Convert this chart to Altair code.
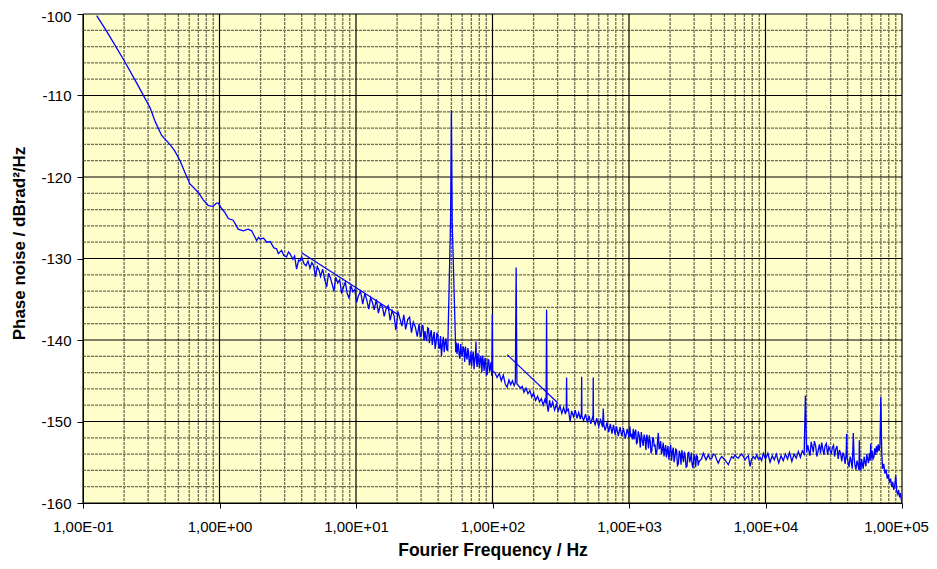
import altair as alt
import pandas as pd

# ---- measured phase-noise curve (Fourier frequency in Hz, phase noise in dBrad^2/Hz)
freq_a = [0.126, 0.15, 0.2, 0.25, 0.31, 0.34, 0.377, 0.433, 0.47, 0.514, 0.56, 0.608, 0.70, 0.76, 0.828,
          0.90, 0.95, 0.98, 1.04, 1.1, 1.16, 1.26, 1.37, 1.49, 1.62, 1.72, 1.87, 1.93, 1.98, 2.1, 2.22,
          2.35, 2.5, 2.62, 2.7, 2.85, 2.95, 3.1, 3.2, 3.28, 3.45, 3.55, 3.67, 3.8, 3.89]
pn_a = [-100.2, -102.2, -105.7, -108.6, -111.5, -113.3, -114.9, -116.0, -116.8, -118.0, -119.5, -120.85,
        -121.9, -122.8, -123.5, -123.6, -123.2, -123.2, -123.9, -124.4, -125.1, -125.3, -126.4, -126.6,
        -126.4, -126.6, -127.8, -127.4, -127.6, -127.5, -128.0, -127.9, -128.7, -128.8, -129.4, -129.0,
        -129.6, -129.8, -129.2, -129.4, -130.1, -129.7, -131.3, -130.2, -130.3]

freq_b1 = [4.0, 4.15, 4.3, 4.45, 4.6, 4.75, 4.9, 5.05, 5.2, 5.35, 5.5, 5.7, 5.9, 6.1, 6.3, 6.5, 6.7, 6.9,
           7.1, 7.35, 7.6, 7.85, 8.1, 8.35, 8.6, 8.9, 9.2, 9.5, 9.8, 10.1, 10.4, 10.8, 11.2, 11.6, 12.0,
           12.4, 12.8, 13.2, 13.6, 14.1, 14.6, 15.1, 15.6, 16.1, 16.6, 17.2, 17.8, 18.4, 19.0, 19.6, 20.3,
           21.0, 21.7, 22.4, 23.1, 23.9, 24.7, 25.5, 26.3, 27.2, 28.1]
pn_b1 = [-129.8, -130.6, -130.9, -130.3, -131.2, -130.5, -130.9, -132.3, -131.0, -131.4, -132.2, -131.3,
         -132.6, -133.5, -131.8, -132.4, -133.2, -134.0,
         -132.3, -133.0, -132.6, -134.3, -133.5, -132.9, -134.2, -134.9, -133.3, -134.1, -133.8, -135.4,
         -134.6, -134.0, -135.6, -134.3, -135.1,
         -136.2, -134.8, -135.4, -136.3, -135.0, -136.7, -135.6, -135.9, -137.1, -136.2, -135.8, -137.6,
         -136.4, -137.0, -138.8, -136.5,
         -137.4, -138.3, -136.9, -138.7, -137.5, -137.2, -139.1, -137.8, -138.4, -139.6]

freq_b2 = [29.0, 29.5, 30.0, 30.5, 31.0, 31.5, 32.0, 32.5, 33.0, 33.5,
           34.0, 34.5, 35.1, 35.6, 36.2, 36.8, 37.4, 38.0, 38.6, 39.2,
           39.8, 40.4, 41.0, 41.6, 42.3, 43.0, 43.6, 44.3, 45.0, 45.6,
           46.2, 47.0, 49.3, 50.0, 50.7, 53.8, 54.5, 55.0, 55.5, 56.2,
           57.0, 57.7, 58.5, 59.2, 60.0, 60.8, 61.7, 62.5, 63.4, 64.2,
           65.1, 66.0, 66.8, 67.7, 68.6, 69.5, 70.4, 71.3, 72.3, 73.2,
           74.2, 75.0, 75.7, 76.2, 77.2, 78.2, 79.2, 80.3, 81.3, 82.4,
           83.5, 84.6, 85.7, 86.8, 88.0, 89.1, 90.3, 91.5, 92.7, 93.9,
           95.1, 96.3, 97.5, 98.8, 99.7, 100.3]
pn_b2 = [-138.0, -139.6, -139.5, -138.2, -138.3, -140.1, -138.9, -139.8, -140.0, -138.5,
         -138.6, -140.4, -139.2, -138.8, -140.6, -139.7, -139.0, -141.1, -140.3, -139.1,
         -139.4, -140.9, -141.0, -139.5, -142.0, -140.4, -139.6, -141.5, -140.2, -139.8,
         -141.2, -141.3, -125.3, -111.8, -125.6, -141.5, -140.3, -141.7, -141.0, -140.4,
         -141.9, -142.3, -140.5, -141.6, -142.0, -140.8, -141.1, -142.7, -140.8, -141.9,
         -142.4, -141.0, -141.5, -143.1, -142.6, -141.4, -143.2, -142.0, -141.4, -143.6,
         -142.3, -141.8, -140.2, -142.6, -143.3, -141.6, -142.5, -143.4, -142.0, -142.3,
         -144.0, -141.9, -142.8, -143.8, -142.2, -142.6, -144.3, -144.2, -142.4, -142.5,
         -143.9, -143.4, -142.7, -144.4, -136.8, -143.8]

freq_c = [104, 108, 112, 116, 120, 124, 128, 132, 136, 140, 144, 147, 149, 151, 155, 160, 165, 170, 176,
          182, 188, 194, 200, 207, 214, 221, 228, 235, 242, 247, 249, 251, 256, 262, 268, 276, 285, 294,
          303, 312, 322, 332, 342, 347, 349, 351, 360, 370, 380, 392, 404, 416, 428, 440, 448, 450, 452,
          465, 480, 495, 510, 525, 540, 545, 547, 549, 565, 580, 600, 620, 640, 648, 655, 670, 690, 710,
          730, 750, 770, 790, 810, 835, 860, 885, 910, 940, 970, 1000]
pn_c = [-144.0, -144.6, -144.1, -145.0, -144.3, -145.4, -145.8, -144.9, -145.5, -145.0, -145.6, -145.2,
        -131.1, -145.4, -145.6, -145.9, -145.7, -146.4, -145.9, -146.6, -146.2, -147.0, -146.5, -147.4,
        -146.9, -147.6, -147.2, -148.0, -147.3, -147.8, -136.3, -147.9, -148.8, -147.4, -148.3, -147.6,
        -148.6, -147.9, -148.7, -148.1, -149.0, -148.3, -149.1, -148.6, -144.6, -148.7, -148.5, -150.0,
        -148.7, -149.4, -148.6, -149.6, -148.9, -149.7, -149.0, -144.5, -149.3, -149.9, -149.1, -150.1,
        -149.3, -150.3, -149.5, -149.7, -144.6, -149.8, -150.4, -149.6, -150.6, -149.8, -150.7, -148.4,
        -150.5, -151.1, -150.1, -151.3, -150.3, -151.5, -150.4, -151.6, -150.6, -151.8, -150.7, -151.8,
        -150.8, -152.1, -150.9, -151.9]

freq_d = [1015, 1030, 1045, 1060, 1075, 1090, 1105, 1120, 1135, 1150,
          1170, 1190, 1210, 1230, 1250, 1270, 1290, 1310, 1330, 1350,
          1370, 1390, 1410, 1430, 1450, 1470, 1490, 1510, 1530, 1550,
          1575, 1600, 1620, 1640, 1660, 1680, 1705, 1730, 1755, 1780,
          1805, 1830, 1855, 1880, 1905, 1930, 1960, 1990, 2020, 2050,
          2080, 2110, 2140, 2170, 2200, 2230, 2265, 2300, 2335, 2370,
          2405, 2440, 2475, 2510, 2545, 2580, 2620, 2660, 2700, 2740,
          2780, 2820, 2860, 2900, 2945, 2990, 3035, 3080, 3125, 3170,
          3215, 3260]
pn_d = [-150.6, -151.9, -151.5, -152.2, -150.9, -152.2, -151.3, -151.0, -152.7, -152.6,
        -151.2, -151.8, -153.2, -151.3, -152.3, -153.0, -151.6, -152.1, -153.5, -151.6,
        -152.2, -153.3, -151.7, -152.4, -153.9, -153.6, -152.0, -152.0, -153.1, -152.8,
        -154.1, -153.7, -152.3, -151.4, -153.4, -153.2, -152.4, -154.0, -153.5, -152.6,
        -154.3, -153.4, -152.9, -154.4, -153.6, -153.0, -154.7, -153.6, -152.9, -154.8,
        -153.7, -153.2, -155.0, -154.3, -153.4, -153.5, -155.4, -155.2, -153.6, -154.0,
        -155.3, -153.5, -154.4, -155.0, -153.7, -154.2, -155.6, -155.5, -153.9, -153.8,
        -155.0, -154.6, -153.8, -155.3, -155.7, -154.1, -154.3, -155.6, -154.2, -154.3,
        -155.4, -154.9]

freq_e = [3400, 3500, 3665, 3815, 3920, 4040, 4150, 4270, 4390, 4510, 4640, 4775, 4910, 5050, 5190, 5340,
          5490, 5650, 5810, 5980, 6150, 6325, 6500, 6690, 6880, 7080, 7280, 7490, 7700, 7920, 8145, 8380,
          8615, 8860, 9115, 9370, 9640]
pn_e = [-154.6, -153.9, -154.7, -154.1, -154.6, -154.5, -154.0, -154.1, -154.7, -155.1, -154.6, -154.3,
        -154.5, -154.7, -155.0, -155.3, -154.8, -154.3, -154.5, -154.1, -154.4, -154.5, -154.2, -154.0,
        -154.3, -154.7, -154.4, -154.2, -155.5, -154.6, -154.3, -154.6, -154.1, -154.6, -154.4, -154.8,
        -153.9]

freq_f1 = [10000, 10400, 10800, 11200, 11600, 12000, 12500, 13000, 13500, 14000,
           14500, 15000, 15600, 16200, 16800, 17400, 18000, 18600, 19200, 19600]
pn_f1 = [-154.6, -153.9, -155.0, -154.2, -154.7, -154.0, -155.1, -154.2, -154.8, -154.0,
         -154.6, -153.8, -154.9, -154.0, -154.5, -153.7, -154.4, -153.6, -154.0, -146.8]

freq_f2 = [20000, 20400, 20800, 21200, 21600, 22000, 22400, 22800, 23300, 23800,
           24300, 24800, 25300, 25800, 26300, 26800, 27300, 27900, 28500, 29100,
           29700, 30300, 30900, 31500, 32100, 32700, 33400, 34100, 34800, 35500,
           36200, 36900, 37600, 38300, 39000, 39300, 39700, 40300, 41000, 41700,
           42400, 43200, 44000, 44600, 45300, 46000, 46800, 47600, 48400, 48700,
           49200, 49900, 50600, 51300, 52000, 52800, 53600, 54400, 55200, 56000,
           56800, 57700, 58500, 59000, 59500, 60400, 61300, 62200, 63100, 64000,
           65000, 66000, 67000, 68000, 69000]
pn_f2 = [-153.8, -152.9, -153.6, -154.2, -152.5, -153.1, -153.8, -152.4, -153.0, -154.3,
         -153.6, -152.8, -153.9, -152.6, -153.4, -154.1, -153.0, -152.7, -154.1, -153.1,
         -153.5, -154.0, -153.2, -152.9, -154.3, -153.4, -153.0, -154.6, -153.5, -153.9,
         -154.9, -153.8, -154.2, -155.2, -154.0, -151.5, -154.5, -155.0, -155.6, -154.3,
         -154.8, -155.8, -151.4, -154.6, -155.4, -155.9, -154.8, -155.3, -156.0, -152.3,
         -155.6, -156.0, -154.6, -155.3, -155.8, -154.3, -155.0, -155.5, -154.0, -154.6,
         -155.1, -153.9, -154.8, -152.7, -154.5, -153.6, -154.6, -154.4, -153.3, -154.1,
         -153.0, -153.8, -152.8, -153.6, -152.8]

freq_f3 = [70000, 71000, 72000, 73500, 75000, 76500, 78000, 79500, 81000, 82500, 84000, 85500,
           87000, 88500, 90000, 91500, 93000, 94500, 96000, 97500, 99000, 100000]
pn_f3 = [-147.0, -153.5, -155.8, -155.2, -156.4, -155.9, -157.0, -156.5, -157.5, -157.0, -158.0, -157.4,
         -158.4, -157.8, -156.6, -158.6, -158.9, -158.4, -159.3, -158.8, -159.7, -159.9]

# ---- fitted straight lines
fit_name = ["fit1", "fit1", "fit2", "fit2"]
fit_freq = [4.0, 20.0, 128.0, 300.0]
fit_pn = [-129.3, -136.8, -141.8, -147.7]

# ---- axis ticks / grid
x_major = [0.1, 1, 10, 100, 1000, 10000, 100000]
x_minor = [m * d for d in [0.1, 1, 10, 100, 1000, 10000] for m in [2, 3, 4, 5, 6, 7, 8, 9]]
y_major = [-160, -150, -140, -130, -120, -110, -100]
y_minor = [-158, -156, -154, -152, -148, -146, -144, -142, -138, -136, -134, -132,
           -128, -126, -124, -122, -118, -116, -114, -112, -108, -106, -104, -102]

freq = freq_a + freq_b1 + freq_b2 + freq_c + freq_d + freq_e + freq_f1 + freq_f2 + freq_f3
pn = pn_a + pn_b1 + pn_b2 + pn_c + pn_d + pn_e + pn_f1 + pn_f2 + pn_f3
curve = pd.DataFrame({"f": freq, "pn": pn, "i": list(range(len(freq)))})
fits = pd.DataFrame({"name": fit_name, "f": fit_freq, "pn": fit_pn})

xs = alt.Scale(type="log", domain=[0.1, 100000], nice=False)
ys = alt.Scale(domain=[-160, -100], nice=False, zero=False)

FONT = "Liberation Sans"
BLUE = "#0000FF"

label_expr = ("datum.value < 0.5 ? '1,00E-01' : datum.value < 5 ? '1,00E+00' : "
              "datum.value < 50 ? '1,00E+01' : datum.value < 500 ? '1,00E+02' : "
              "datum.value < 5000 ? '1,00E+03' : datum.value < 50000 ? '1,00E+04' : '1,00E+05'")

x_axis = alt.Axis(
    values=x_major, labelExpr=label_expr, grid=False, title="Fourier Frequency / Hz",
    tickSize=5, labelPadding=11, labelFontSize=15, labelFont=FONT, labelColor="#000",
    titleFont=FONT, titleFontSize=17.5, titleFontWeight="bold", titleColor="#000",
    titlePadding=7, domainColor="#000", tickColor="#000", labelFlush=False,
    labelOverlap=False,
    labelOffset={"condition": {"test": "datum.value >= 50000", "value": -6}, "value": 0})
y_axis = alt.Axis(
    values=y_major, labelExpr="'' + datum.value", grid=False,
    title="Phase noise / dBrad²/Hz", tickSize=6, labelPadding=6, labelFontSize=15,
    labelFont=FONT, labelColor="#000", titleFont=FONT, titleFontSize=17,
    titleFontWeight="bold", titleColor="#000", titlePadding=12, titleY=229,
    domainColor="#000", tickColor="#000", labelOverlap=False,
    labelOffset={"condition": {"test": "datum.value == -100", "value": 2}, "value": 0})

minor_x = alt.Chart(pd.DataFrame({"v": x_minor})).mark_rule(
    color="#6e6e58", strokeWidth=1.3, strokeDash=[3, 1]
).encode(x=alt.X("v:Q", scale=xs, axis=x_axis))
minor_y = alt.Chart(pd.DataFrame({"v": y_minor})).mark_rule(
    color="#6e6e58", strokeWidth=1.3, strokeDash=[3, 1]
).encode(y=alt.Y("v:Q", scale=ys, axis=y_axis))
major_x = alt.Chart(pd.DataFrame({"v": x_major})).mark_rule(
    color="#000000", strokeWidth=1.2
).encode(x=alt.X("v:Q", scale=xs, axis=x_axis))
major_y = alt.Chart(pd.DataFrame({"v": y_major})).mark_rule(
    color="#000000", strokeWidth=1.2
).encode(y=alt.Y("v:Q", scale=ys, axis=y_axis))

line = alt.Chart(curve).mark_line(color=BLUE, strokeWidth=1.3, clip=True).encode(
    x=alt.X("f:Q", scale=xs, axis=x_axis),
    y=alt.Y("pn:Q", scale=ys, axis=y_axis),
    order="i:Q",
)

fit = alt.Chart(fits).mark_line(color=BLUE, strokeWidth=1.2, clip=True).encode(
    x=alt.X("f:Q", scale=xs, axis=x_axis), y=alt.Y("pn:Q", scale=ys, axis=y_axis), detail="name:N"
)

chart = alt.layer(minor_x, minor_y, major_x, major_y, line, fit).properties(
    width=819, height=489,
    autosize=alt.AutoSizeParams(type="none"),
    padding={"left": 75, "top": 6, "right": 27, "bottom": 58},
    background="#FFFFFF",
).configure_view(fill="#FFFFCC", stroke=None)

chart.save("out.html", embed_options={"renderer": "svg", "actions": False})
